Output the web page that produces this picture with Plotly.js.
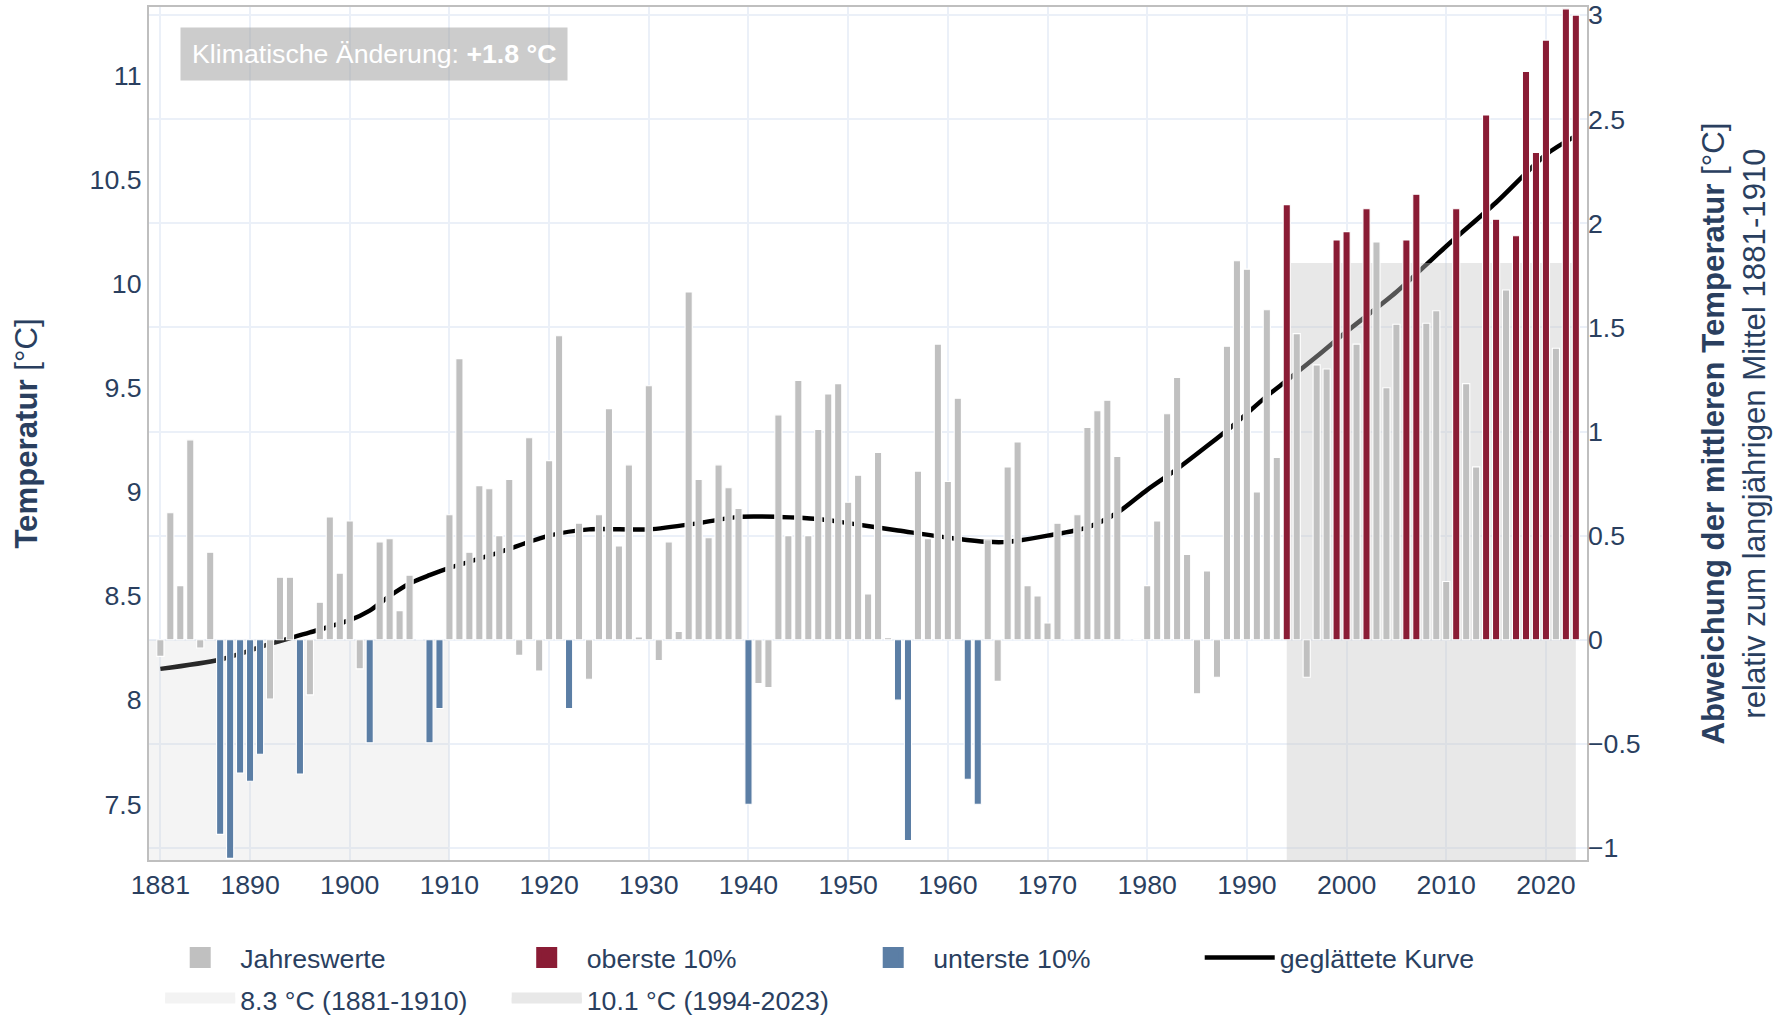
<!DOCTYPE html>
<html>
<head>
<meta charset="utf-8">
<script src="https://cdn.plot.ly/plotly-3.0.1.min.js"></script>
<style>
html, body { margin: 0; padding: 0; background: #ffffff; }
#chart { width: 1781px; height: 1017px; }
</style>
</head>
<body>
<div id="chart"></div>
<script>
// ---- data ----
const startJahr = 1881;
// Abweichung der Jahresmitteltemperatur vom Mittel 1881-1910 [°C], 1881 ... 2023
const abweichung = [
  -0.08, 0.61, 0.26, 0.96, -0.04, 0.42, -0.935, -1.05, -0.64, -0.68,   // 1881-1890
  -0.55, -0.285, 0.30, 0.30, -0.645, -0.265, 0.18, 0.59, 0.32, 0.57,    // 1891-1900
  -0.14, -0.495, 0.47, 0.485, 0.14, 0.31, 0.0, -0.495, -0.33, 0.60,     // 1901-1910
  1.35, 0.42, 0.74, 0.725, 0.50, 0.77, -0.075, 0.97, -0.15, 0.86,       // 1911-1920
  1.46, -0.33, 0.56, -0.19, 0.60, 1.11, 0.45, 0.84, 0.013, 1.22,        // 1921-1930
  -0.10, 0.47, 0.04, 1.67, 0.77, 0.49, 0.84, 0.73, 0.63, -0.79,         // 1931-1940
  -0.21, -0.23, 1.08, 0.50, 1.245, 0.50, 1.01, 1.18, 1.23, 0.66,        // 1941-1950
  0.79, 0.22, 0.90, 0.01, -0.29, -0.965, 0.81, 0.485, 1.42, 0.76,       // 1951-1960
  1.16, -0.67, -0.79, 0.48, -0.20, 0.83, 0.95, 0.26, 0.21, 0.08,        // 1961-1970
  0.56, 0.0, 0.60, 1.02, 1.10, 1.15, 0.88, 0.0, 0.005, 0.26,            // 1971-1980
  0.57, 1.085, 1.26, 0.41, -0.26, 0.33, -0.18, 1.41, 1.82, 1.78,        // 1981-1990
  0.71, 1.585, 0.875, 2.09, 1.47, -0.18, 1.32, 1.30, 1.92, 1.96,        // 1991-2000
  1.42, 2.07, 1.91, 1.21, 1.515, 1.92, 2.14, 1.52, 1.58, 0.28,          // 2001-2010
  2.07, 1.23, 0.83, 2.52, 2.02, 1.68, 1.94, 2.73, 2.34, 2.88,           // 2011-2020
  1.40, 3.03, 3.00                                                      // 2021-2023
];
const oberste10 = [1994, 1999, 2000, 2002, 2006, 2007, 2011, 2014, 2015, 2017, 2018, 2019, 2020, 2022, 2023];
const unterste10 = [1887, 1888, 1889, 1890, 1891, 1895, 1902, 1908, 1909, 1922, 1940, 1955, 1956, 1962, 1963];

const mittelAlt = 8.29;      // Mittel 1881-1910
const mittelNeu = 10.1;      // Mittel 1994-2023
const periodeAlt = [1879, 1910];
const periodeNeu = [1994, 2023];

// geglättete Kurve [°C]
const kurveJahre = [1881, 1887, 1892, 1896, 1900, 1902, 1904, 1906, 1908, 1910, 1915, 1920, 1924, 1930, 1935, 1939,
  1943, 1947, 1950, 1955, 1960, 1964, 1966, 1970, 1974, 1977, 1980, 1983, 1986, 1989, 1992, 1994, 1997, 2000,
  2005, 2010, 2015, 2020, 2023];
const kurveTemp = [8.150, 8.195, 8.270, 8.325, 8.384, 8.430, 8.500, 8.560, 8.600, 8.635, 8.710, 8.790, 8.820, 8.820,
  8.850, 8.880, 8.880, 8.870, 8.850, 8.815, 8.780, 8.760, 8.760, 8.790, 8.830, 8.900, 9.010, 9.110, 9.220, 9.335,
  9.460, 9.535, 9.650, 9.770, 9.960, 10.180, 10.390, 10.620, 10.710];

const xTicks = [1881, 1890, 1900, 1910, 1920, 1930, 1940, 1950, 1960, 1970, 1980, 1990, 2000, 2010, 2020];
const yTicksTemp = [7.5, 8, 8.5, 9, 9.5, 10, 10.5, 11];
const yTicksAbw = [-1, -0.5, 0, 0.5, 1, 1.5, 2, 2.5, 3];

const labels = {
  jahreswerte: 'Jahreswerte',
  oben: 'oberste 10%',
  unten: 'unterste 10%',
  kurve: 'geglättete Kurve',
  alt: '8.3 °C (1881-1910)',
  neu: '10.1 °C (1994-2023)'
};

// ---- build ----
const jahre = abweichung.map((v, i) => startJahr + i);
const klasse = jahre.map(j => oberste10.includes(j) ? 'oben' : (unterste10.includes(j) ? 'unten' : 'mitte'));
function pick(k) {
  const xs = [], ys = [];
  jahre.forEach((j, i) => { if (klasse[i] === k) { xs.push(j); ys.push(abweichung[i]); } });
  return { x: xs, y: ys };
}
const cGray = '#c0c0c0', cRed = '#8a1c35', cBlue = '#5b7ea5';
const fillAlt = 'rgba(200,200,200,0.2)', fillNeu = 'rgba(200,200,200,0.42)';
const iconAlt = '#f3f3f3', iconNeu = '#e8e8e8';
const font = 'Liberation Sans, Arial, Helvetica, sans-serif';
const ink = '#2a3f5f';
const fs = 26.7;

const abwRange = [-1.058, 3.039];
const tempRange = abwRange.map(v => v + mittelAlt);

function barTrace(k, color, name) {
  const d = pick(k);
  return {
    type: 'bar', x: d.x, y: d.y, xaxis: 'x', yaxis: 'y2', width: 0.72,
    marker: { color: color, line: { color: '#ffffff', width: 1.1 } },
    name: name, legendgroup: k, showlegend: false, hoverinfo: 'x+y'
  };
}
function proxy(k, color, name, rank) {
  return {
    type: 'scatter', mode: 'markers', x: [null], y: [null], xaxis: 'x', yaxis: 'y2',
    marker: { symbol: 'square', size: 16, color: color, line: { color: color, width: 5 } },
    name: name, legendgroup: k, legendrank: rank, showlegend: true, legend: 'legend'
  };
}
function areaTrace(k, xs, level, color, name) {
  return { type: 'scatter', mode: 'none', x: xs, y: [level, level], xaxis: 'x', yaxis: 'y',
    fill: 'tozeroy', fillcolor: color, name: name, legendgroup: k, showlegend: false, hoverinfo: 'skip' };
}
function areaProxy(k, color, name, rank) {
  return { type: 'scatter', mode: 'lines', x: [null], y: [null], xaxis: 'x', yaxis: 'y',
    fill: 'tozeroy', fillcolor: color, line: { color: color, width: 10 },
    name: name, legendgroup: k, legendrank: rank, showlegend: true, legend: 'legend2' };
}

const data = [
  { type: 'scatter', mode: 'lines', x: kurveJahre, y: kurveTemp, xaxis: 'x', yaxis: 'y',
    line: { color: '#000000', width: 4.5, shape: 'spline', smoothing: 0.8 },
    name: labels.kurve, legendrank: 4, legend: 'legend' },
  areaTrace('alt', periodeAlt, mittelAlt, fillAlt, labels.alt),
  areaTrace('neu', periodeNeu, mittelNeu, fillNeu, labels.neu),
  barTrace('mitte', cGray, labels.jahreswerte),
  barTrace('oben', cRed, labels.oben),
  barTrace('unten', cBlue, labels.unten),
  proxy('mitte', cGray, labels.jahreswerte, 1),
  proxy('oben', cRed, labels.oben, 2),
  proxy('unten', cBlue, labels.unten, 3),
  areaProxy('alt', iconAlt, labels.alt, 5),
  areaProxy('neu', iconNeu, labels.neu, 6)
];

const legendCommon = {
  orientation: 'h', xref: 'paper', x: 0.0078, xanchor: 'left', yref: 'container', yanchor: 'top',
  itemwidth: 70, entrywidth: 261.5, entrywidthmode: 'pixels',
  font: { family: font, size: fs, color: ink }, bgcolor: 'rgba(0,0,0,0)', borderwidth: 0, traceorder: 'normal'
};

const layout = {
  width: 1781, height: 1017,
  margin: { l: 149, r: 194, t: 7, b: 157, pad: 0 },
  paper_bgcolor: '#ffffff', plot_bgcolor: '#ffffff',
  font: { family: font, size: fs, color: ink },
  barmode: 'overlay',
  showlegend: true,
  xaxis: {
    range: [1879.86, 2024.12], tickmode: 'array', tickvals: xTicks, ticktext: xTicks.map(String),
    showgrid: true, gridcolor: '#EBF0F8', gridwidth: 2.2, zeroline: false, automargin: false,
    showline: true, linecolor: '#bfbfbf', linewidth: 2.2, mirror: true, ticks: '',
    tickfont: { family: font, size: fs, color: ink }
  },
  yaxis: {
    range: tempRange, tickmode: 'array', tickvals: yTicksTemp, ticktext: yTicksTemp.map(String),
    showgrid: false, zeroline: false, showline: true, linecolor: '#bfbfbf', linewidth: 2.2, mirror: true, ticks: '',
    automargin: false,
    tickfont: { family: font, size: fs, color: ink },
    title: { text: '<b>Temperatur</b> [°C]', font: { family: font, size: 31.2, color: ink }, standoff: 43 }
  },
  yaxis2: {
    overlaying: 'y', side: 'right', range: abwRange, tickmode: 'array', tickvals: yTicksAbw,
    showgrid: true, gridcolor: '#EBF0F8', gridwidth: 2.2, zeroline: false, showline: false, ticks: '',
    automargin: false,
    tickfont: { family: font, size: fs, color: ink },
    title: { text: '<b>Abweichung der mittleren Temperatur</b> [°C]<br>relativ zum langjährigen Mittel 1881-1910',
      font: { family: font, size: 31.2, color: ink }, standoff: 62 }
  },
  legend: Object.assign({}, legendCommon, { y: 0.0820 }),
  legend2: Object.assign({}, legendCommon, { y: 0.0406 }),
  annotations: [{
    xref: 'paper', yref: 'paper', x: 0.0214, y: 0.9760, xanchor: 'left', yanchor: 'top',
    text: 'Klimatische Änderung: <b>+1.8 °C</b>', showarrow: false,
    font: { family: font, size: fs, color: '#ffffff' },
    bgcolor: 'rgba(153,153,153,0.5)', borderpad: 11, borderwidth: 1, bordercolor: 'rgba(0,0,0,0)'
  }]
};

Plotly.newPlot('chart', data, layout, { displayModeBar: false, responsive: false });
</script>
</body>
</html>
